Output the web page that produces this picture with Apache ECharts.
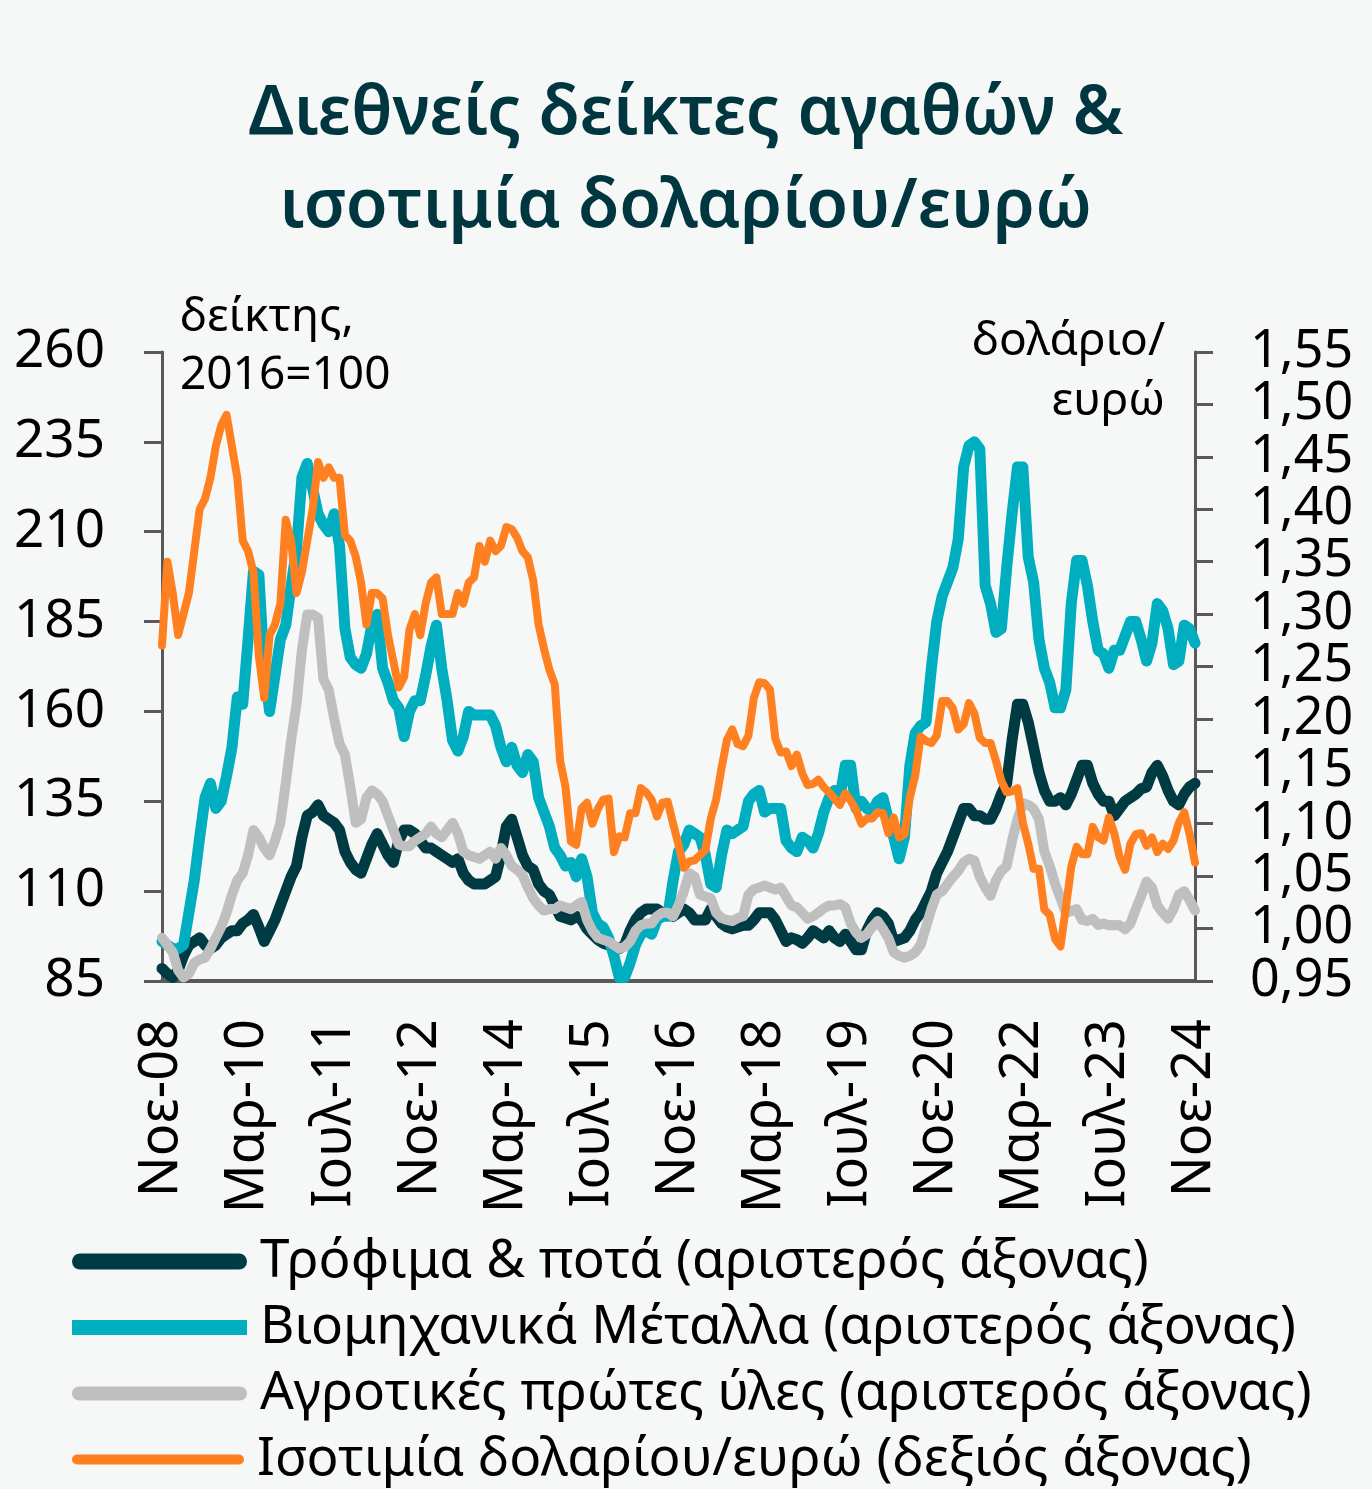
<!DOCTYPE html>
<html lang="el">
<head>
  <meta http-equiv="Content-Type" content="text/html; charset=UTF-8">
  <title>Διεθνείς δείκτες αγαθών & ισοτιμία δολαρίου/ευρώ</title>
  <style>
    html, body { margin: 0; padding: 0; background: #f6f8f7; }
  </style>
</head>
<body>
  <div id="chart" style="width: 1372px; height: 1489px;"></div>
  <script src="https://cdn.jsdelivr.net/npm/echarts@6/dist/echarts.min.js"></script>
  <script>
    // μήνες για τις ετικέτες του άξονα (Νοε-08 ... Νοε-24)
    const monthNames = ['Ιαν', 'Φεβ', 'Μαρ', 'Απρ', 'Μαϊ', 'Ιουν', 'Ιουλ', 'Αυγ', 'Σεπ', 'Οκτ', 'Νοε', 'Δεκ'];
    const startYear = 2008;
    const startMonth = 10; // Νοέμβριος
    const monthCount = 193;

    const seriesNames = [
      'Τρόφιμα & ποτά (αριστερός άξονας)',
      'Βιομηχανικά Μέταλλα (αριστερός άξονας)',
      'Αγροτικές πρώτες ύλες (αριστερός άξονας)',
      'Ισοτιμία δολαρίου/ευρώ (δεξιός άξονας)'
    ];

    const leftTicks = { min: 85, max: 260, interval: 25 };
    const rightTicks = { min: 0.95, max: 1.55, interval: 0.05 };

    // δείκτης, 2016=100
    const food = [
      88.5, 87, 86, 88, 92, 95, 96, 97, 95, 94,
      95, 97, 98, 99, 99, 101, 102, 103.5, 100, 96,
      99, 102, 106, 110, 114, 117, 125, 131, 132, 134,
      131, 130, 129, 127, 121, 118, 116, 115, 119, 123,
      126, 123, 120, 118, 124, 127, 127, 126, 124, 122,
      122, 121, 120, 119, 118, 119, 115, 113, 112, 112,
      112, 113, 114, 120, 128, 130, 125, 120, 117, 116,
      112, 110, 109, 106, 103, 102.5, 102, 103, 102, 99.5,
      98, 96.5, 95.5, 95, 94.5, 94, 95, 99, 102, 104,
      105, 105, 105, 104, 104, 103, 104, 105, 104, 102,
      102, 102, 105, 103, 101, 100, 99.5, 100, 100.5, 100.5,
      102, 104, 104, 104, 102, 99, 96, 97, 96.5, 95.5,
      97, 99, 98, 97, 99, 97, 96, 98, 96, 93.7,
      93.7, 99, 102, 104, 103, 101, 96, 96.5, 97, 99,
      102, 104, 107, 110, 115, 118, 121, 125, 129, 133,
      133, 131, 131, 130, 130, 133, 137, 140, 152, 162,
      162, 157, 150, 143, 138, 135, 135, 136, 134, 137,
      141, 145, 145, 140, 137, 135, 135, 131, 133, 135,
      136, 137, 138.5, 139, 143, 145, 142, 138, 135, 134,
      137, 139, 140
    ];

    const metals = [
      96, 95, 94, 94, 95, 104, 113, 125, 136, 140,
      133, 135, 142, 150, 164, 162, 180, 199, 198, 172,
      160, 170, 180, 184, 195, 205, 225, 229, 222, 215,
      212, 210, 215, 206, 183, 175, 173, 172, 176, 184,
      187, 172, 168, 163, 161, 153, 160, 163, 163, 170,
      178, 184, 172, 163, 152, 149, 153, 160, 159, 159,
      159, 159, 156, 150, 146, 150, 145, 143, 148, 146,
      136, 132, 128, 122, 120, 117, 118, 114, 119, 114,
      104, 101, 100, 97, 92, 86, 86, 90, 95, 98,
      99, 98, 102, 103, 103, 113, 121, 123, 127, 126,
      125, 120, 112, 111, 120, 127, 126, 127, 128, 135,
      137, 138, 132, 133, 133, 133, 124, 122, 121, 125,
      124, 122, 126, 132, 136, 138, 136, 145, 145, 133,
      135, 133, 132, 135, 136, 130, 125, 119, 125, 145,
      154, 156, 157, 172, 185, 192, 196, 200, 208, 228,
      234, 235, 233, 195, 190, 182, 183, 200, 215, 228,
      228, 203, 196, 180, 172, 168, 161, 161, 166, 190,
      202, 202, 195, 185, 177, 176, 172, 177, 177, 181,
      185, 185, 180, 174, 179, 190, 188, 183, 173, 174,
      184, 183, 179
    ];

    const agri = [
      97, 95, 93, 88, 86, 87, 90, 91, 91.5, 94,
      97, 100, 104, 109, 113, 115, 120, 127, 125, 122,
      120, 124, 129, 140, 152, 162, 177, 187, 187, 186,
      169, 166, 158, 151, 148, 139, 129, 130, 136, 138,
      137, 135, 131, 127, 123, 122.5, 122.5, 124, 125, 126,
      128, 126, 125, 127, 129, 126, 121, 120, 119.5, 119,
      120, 121, 119, 122, 120, 117, 116, 114.5, 111, 108,
      106, 104.6, 105, 105, 106, 105.5, 105, 106, 107, 102,
      99, 97, 96.5, 96, 95, 94, 94.5, 96, 99, 100.5,
      101, 101, 103, 104, 104, 103, 106, 110, 115, 114,
      109, 108.5, 108, 104, 102.5, 102, 101.7, 102.5, 103, 109,
      110.5, 111, 111.6, 111, 110.4, 111, 108.5, 106, 105.5, 104,
      102.3, 103, 104, 105.2, 106, 106, 106.4, 105.5, 101, 98.5,
      97, 98, 100, 101.7, 99.5, 97, 93, 92, 91.5, 92,
      93, 95, 100, 105, 109, 110, 112, 114, 115.6, 118,
      119, 118.5, 114, 111, 108.7, 113, 115.6, 117, 124, 130,
      134.5, 134, 132.9, 130, 121, 117, 112, 108, 104, 104.5,
      105, 102, 101.7, 102.3, 100.6, 101, 100.5, 100.6, 100.5, 99.4,
      101, 105, 108.7, 112.7, 111, 106, 104, 102.3, 105, 109,
      110, 107.5, 104.6
    ];

    // δολάριο/ευρώ
    const usdEur = [
      1.27, 1.35,
      1.32, 1.28, 1.30, 1.32, 1.36, 1.40, 1.41, 1.43, 1.46, 1.48, 1.49, 1.46,
      1.43, 1.37, 1.36, 1.34, 1.26, 1.22, 1.28, 1.29, 1.31, 1.39, 1.37, 1.32,
      1.34, 1.37, 1.40, 1.445, 1.43, 1.44, 1.43, 1.43, 1.375, 1.37, 1.355, 1.33,
      1.29, 1.32, 1.32, 1.315, 1.28, 1.255, 1.23, 1.24, 1.285, 1.30, 1.28, 1.31,
      1.33, 1.335, 1.30, 1.30, 1.30, 1.32, 1.31, 1.33, 1.335, 1.365, 1.35, 1.37,
      1.36, 1.365, 1.383, 1.381, 1.373, 1.36, 1.354, 1.332, 1.29, 1.267, 1.247, 1.233,
      1.16, 1.135, 1.083, 1.08, 1.115, 1.12, 1.10, 1.114, 1.123, 1.124, 1.073, 1.088,
      1.087, 1.11, 1.11, 1.134, 1.13, 1.123, 1.107, 1.12, 1.121, 1.10, 1.08, 1.058,
      1.064, 1.065, 1.07, 1.075, 1.105, 1.123, 1.153, 1.18, 1.19, 1.176, 1.174, 1.184,
      1.22, 1.235, 1.234, 1.228, 1.181, 1.168, 1.169, 1.155, 1.166, 1.148, 1.137, 1.138,
      1.142, 1.135, 1.13, 1.124, 1.118, 1.129, 1.122, 1.113, 1.10, 1.105, 1.105, 1.111,
      1.11, 1.091, 1.106, 1.087, 1.09, 1.125, 1.146, 1.183, 1.179, 1.177, 1.184, 1.217,
      1.217, 1.21, 1.19, 1.195, 1.215, 1.205, 1.182, 1.177, 1.177, 1.16, 1.141, 1.13,
      1.131, 1.134, 1.101, 1.081, 1.057, 1.057, 1.018, 1.013, 0.99, 0.983, 1.02, 1.059,
      1.078, 1.071, 1.071, 1.097, 1.087, 1.084, 1.106, 1.091, 1.068, 1.056, 1.081, 1.09,
      1.091, 1.079, 1.087, 1.073, 1.081, 1.076, 1.084, 1.101, 1.111, 1.09, 1.063
    ];

    const categories = [];
    for (let i = 0; i < monthCount; i++) {
      const m = (startMonth + i) % 12;
      const y = startYear + Math.floor((startMonth + i) / 12);
      categories.push(monthNames[m] + '-' + String(y % 100).padStart(2, '0'));
    }

    const axisColor = '#595959';
    const fontFamily = '"Noto Sans", "DejaVu Sans", sans-serif';
    const colors = ['#003a42', '#00aebf', '#bfbfbf', '#ff8021'];

    const capsule = (w, h) => {
      const r = h / 2;
      return 'path://M' + r + ',0H' + (w - r) + 'A' + r + ',' + r + ',0,0,1,' + (w - r) + ',' + h +
        'H' + r + 'A' + r + ',' + r + ',0,0,1,' + r + ',0Z';
    };

    const legendItem = (i, top, icon, w, h) => ({
      data: [seriesNames[i]],
      left: 72,
      top: top,
      padding: 0,
      icon: icon,
      itemWidth: w,
      itemHeight: h,
      itemStyle: { color: colors[i], borderWidth: 0 },
      selectedMode: false,
      textStyle: { fontFamily: fontFamily, fontSize: 53, color: '#000', padding: [0, 0, 0, 8] }
    });

    const textTitle = (text, pos, size, weight, color) => Object.assign({
      text: text,
      padding: 0,
      textStyle: { fontFamily: fontFamily, fontSize: size, fontWeight: weight, color: color }
    }, pos);

    const myChart = echarts.init(document.getElementById('chart'), null, { renderer: 'canvas' });
    const option = {
      backgroundColor: '#f6f8f7',
      animation: false,
      title: [
        textTitle('Διεθνείς δείκτες αγαθών &', { left: 'center', top: 81 }, 68, 600, '#00363f'),
        textTitle('ισοτιμία δολαρίου/ευρώ', { left: 'center', top: 174 }, 68, 600, '#00363f'),
        textTitle('δείκτης,', { left: 180, top: 295 }, 46, 'normal', '#000'),
        textTitle('2016=100', { left: 180, top: 353 }, 46, 'normal', '#000'),
        textTitle('δολάριο/', { right: 207, top: 319 }, 46, 'normal', '#000'),
        textTitle('ευρώ', { right: 207, top: 379 }, 46, 'normal', '#000')
      ],
      legend: [
        legendItem(0, 1235, capsule(175, 16), 175, 16),
        legendItem(1, 1301, 'rect', 175, 15),
        legendItem(2, 1367, capsule(175, 14), 175, 14),
        legendItem(3, 1433, capsule(172, 10), 172, 10)
      ],
      grid: { left: 162, right: 177, top: 352, bottom: 508, containLabel: false, outerBoundsMode: 'none' },
      xAxis: {
        type: 'category',
        data: categories,
        boundaryGap: false,
        axisLine: { lineStyle: { color: axisColor, width: 4 } },
        axisTick: { show: false },
        axisLabel: {
          interval: 15,
          rotate: 90,
          margin: 38,
          fontFamily: fontFamily,
          fontSize: 54,
          color: '#000'
        },
        splitLine: { show: false }
      },
      yAxis: [{
        type: 'value',
        position: 'left',
        min: leftTicks.min,
        max: leftTicks.max,
        interval: leftTicks.interval,
        axisLine: { show: true, lineStyle: { color: axisColor, width: 3 } },
        axisTick: { show: true, length: 18, lineStyle: { color: axisColor, width: 3 } },
        axisLabel: { margin: 57, fontFamily: fontFamily, fontSize: 53, color: '#000', showMinLabel: true, showMaxLabel: true },
        splitLine: { show: false }
      }, {
        type: 'value',
        position: 'right',
        min: rightTicks.min,
        max: rightTicks.max,
        interval: rightTicks.interval,
        axisLine: { show: true, lineStyle: { color: axisColor, width: 3 } },
        axisTick: { show: true, length: 18, lineStyle: { color: axisColor, width: 3 } },
        axisLabel: {
          margin: 55,
          fontFamily: fontFamily,
          fontSize: 52,
          lineHeight: 50,
          color: '#000',
          showMinLabel: true,
          showMaxLabel: true,
          hideOverlap: false,
          formatter: (v) => v.toFixed(2).replace('.', ',')
        },
        splitLine: { show: false }
      }],
      series: [{
        name: seriesNames[0],
        type: 'line',
        yAxisIndex: 0,
        data: food,
        symbol: 'none',
        color: colors[0],
        lineStyle: { width: 11, cap: 'round', join: 'round' }
      }, {
        name: seriesNames[1],
        type: 'line',
        yAxisIndex: 0,
        data: metals,
        symbol: 'none',
        color: colors[1],
        lineStyle: { width: 11, cap: 'round', join: 'round' }
      }, {
        name: seriesNames[2],
        type: 'line',
        yAxisIndex: 0,
        data: agri,
        symbol: 'none',
        color: colors[2],
        lineStyle: { width: 10, cap: 'round', join: 'round' }
      }, {
        name: seriesNames[3],
        type: 'line',
        yAxisIndex: 1,
        data: usdEur,
        symbol: 'none',
        color: colors[3],
        lineStyle: { width: 8, cap: 'round', join: 'round' }
      }]
    };
    myChart.setOption(option);
  </script>
</body>
</html>
